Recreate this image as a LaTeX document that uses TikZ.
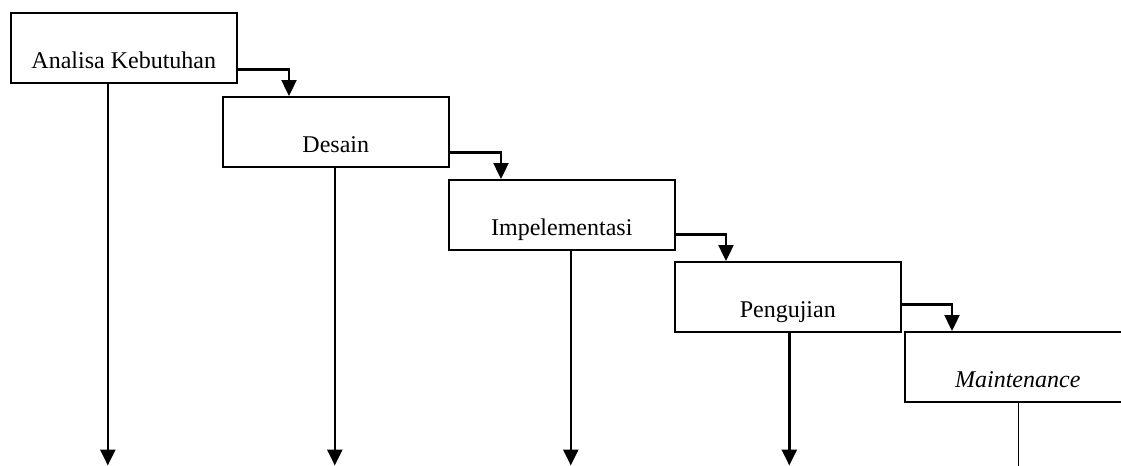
\documentclass[tikz,border=0pt]{standalone}
\usepackage{fontspec}
\setmainfont{Liberation Serif}
\usetikzlibrary{positioning,arrows.meta}

\begin{document}
\begin{tikzpicture}[x=0.5pt,y=-0.5pt,phase/.style={draw, line width=0.8pt, inner sep=0pt, minimum width=113pt, text height=28pt, text depth=7pt, font=\fontsize{12}{14}\selectfont},flow/.style={line width=1.2pt, -{Triangle[length=8pt,width=7.5pt]}}]
\clip (0,0) rectangle (1121,466);
\coordinate (bottom) at (0,465.5);
\node[phase, anchor=north west] (ana) at (10,12) {Analisa Kebutuhan};
\node[phase, anchor=north west] (des) at (222,96) {Desain};
\node[phase, anchor=north west] (imp) at (448,179) {Impelementasi};
\node[phase, anchor=north west] (uji) at (674,261) {Pengujian};
\node[phase, anchor=north west] (mnt) at (904,331) {\textit{Maintenance}};
\draw[flow] ([yshift=7pt]ana.south east) -| ([xshift=33.5pt]des.north west);
\draw[flow] ([yshift=7.5pt]des.south east) -| ([xshift=26.5pt]imp.north west);
\draw[flow] ([yshift=8pt]imp.south east) -| ([xshift=26pt]uji.north west);
\draw[flow] ([yshift=14pt]uji.south east) -| ([xshift=24pt]mnt.north west);
\foreach \n/\dx in {ana/-8,des/-0.5,imp/4.5,uji/0.75}
  \draw[flow] ([xshift=\dx pt]\n.south) -- ([xshift=\dx pt]\n.south |- bottom);
\draw[line width=0.6pt] ([xshift=0.5pt]mnt.south) -- ([xshift=0.5pt]mnt.south |- bottom);
\end{tikzpicture}
\end{document}
